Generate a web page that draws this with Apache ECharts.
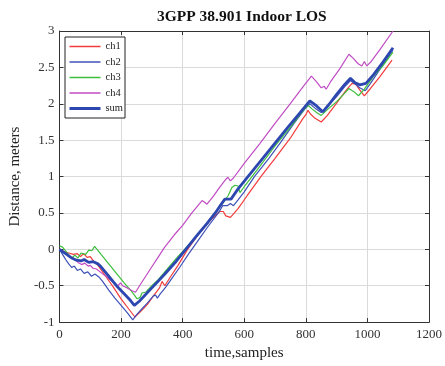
<!DOCTYPE html>
<html>
<head>
<meta charset="utf-8">
<script src="https://cdn.jsdelivr.net/npm/echarts@6/dist/echarts.min.js"></script>
<style>
html,body{margin:0;padding:0;background:#fff;}
#chart{width:445px;height:366px;}
</style>
</head>
<body>
<div id="chart"></div>
<script>
const titleText = '3GPP 38.901 Indoor LOS';
const xName = 'time,samples';
const yName = 'Distance, meters';
const seriesNames = ['ch1', 'ch2', 'ch3', 'ch4', 'sum'];

const ch1 = [[0,0],[15,-0.03],[30,-0.05],[45,-0.07],[58,-0.06],[68,-0.1],[78,-0.06],[90,-0.11],[100,-0.1],[110,-0.16],[125,-0.22],[150,-0.37],[175,-0.52],[200,-0.68],[225,-0.82],[245,-0.93],[265,-0.85],[285,-0.76],[305,-0.64],[325,-0.53],[333,-0.44],[342,-0.5],[360,-0.38],[385,-0.22],[416,0.0],[450,0.2],[490,0.4],[520,0.52],[532,0.52],[540,0.46],[555,0.44],[568,0.5],[580,0.56],[610,0.74],[654,1.0],[700,1.25],[750,1.53],[791,1.8],[800,1.85],[807,1.91],[815,1.86],[830,1.8],[850,1.75],[870,1.84],[900,2.01],[930,2.18],[950,2.28],[962,2.27],[975,2.19],[990,2.11],[1010,2.21],[1040,2.37],[1080,2.6]];

const ch2 = [[0,0],[10,-0.07],[20,-0.14],[30,-0.2],[40,-0.25],[48,-0.23],[58,-0.29],[68,-0.27],[80,-0.33],[92,-0.31],[104,-0.37],[115,-0.34],[128,-0.38],[140,-0.44],[160,-0.56],[180,-0.67],[200,-0.77],[220,-0.87],[238,-0.97],[250,-0.9],[265,-0.83],[285,-0.74],[305,-0.64],[312,-0.63],[318,-0.67],[326,-0.62],[345,-0.52],[365,-0.4],[390,-0.25],[420,-0.06],[450,0.12],[480,0.3],[516,0.5],[530,0.6],[545,0.6],[555,0.63],[565,0.6],[580,0.68],[600,0.79],[633,1.0],[680,1.25],[720,1.48],[760,1.72],[795,1.92],[813,2.0],[830,1.94],[850,1.88],[870,1.96],[900,2.1],[925,2.23],[945,2.32],[958,2.28],[975,2.22],[993,2.18],[1010,2.28],[1040,2.47],[1083,2.74]];

const ch3 = [[0,0.05],[10,0.03],[25,-0.05],[40,-0.12],[50,-0.08],[60,-0.12],[70,-0.05],[85,-0.07],[95,-0.01],[105,-0.02],[114,0.04],[122,0.0],[135,-0.07],[160,-0.2],[185,-0.33],[210,-0.46],[235,-0.58],[252,-0.68],[262,-0.66],[268,-0.6],[280,-0.59],[300,-0.5],[320,-0.42],[340,-0.32],[360,-0.22],[380,-0.12],[420,0.06],[460,0.25],[500,0.48],[530,0.63],[548,0.74],[560,0.85],[570,0.88],[580,0.87],[586,0.78],[600,0.86],[640,1.08],[700,1.42],[750,1.68],[790,1.9],[807,1.98],[820,1.93],[835,1.88],[850,1.84],[870,1.92],[900,2.03],[925,2.14],[940,2.21],[955,2.17],[971,2.11],[990,2.2],[1020,2.38],[1050,2.52],[1083,2.71]];

const ch4 = [[0,0],[20,-0.05],[35,-0.1],[51,-0.14],[60,-0.18],[72,-0.21],[82,-0.19],[93,-0.23],[100,-0.22],[109,-0.26],[120,-0.27],[135,-0.32],[165,-0.42],[190,-0.5],[198,-0.46],[205,-0.5],[220,-0.53],[236,-0.57],[247,-0.59],[260,-0.5],[280,-0.37],[300,-0.24],[320,-0.11],[340,0.02],[373,0.2],[400,0.33],[430,0.5],[463,0.67],[470,0.65],[479,0.62],[500,0.73],[520,0.85],[540,0.96],[547,0.99],[555,0.94],[565,0.98],[600,1.18],[650,1.45],[700,1.73],[749,2.0],[790,2.23],[818,2.38],[835,2.3],[850,2.22],[860,2.24],[866,2.2],[880,2.3],[910,2.48],[940,2.68],[955,2.62],[970,2.55],[982,2.52],[990,2.58],[998,2.52],[1010,2.57],[1040,2.74],[1083,3.0]];

const sum = [[0,0],[20,-0.06],[40,-0.12],[55,-0.15],[70,-0.16],[80,-0.14],[95,-0.18],[110,-0.17],[125,-0.2],[135,-0.24],[160,-0.37],[185,-0.5],[210,-0.61],[230,-0.7],[243,-0.77],[260,-0.71],[300,-0.53],[340,-0.35],[380,-0.16],[410,0.0],[450,0.21],[480,0.36],[506,0.5],[525,0.62],[537,0.69],[557,0.69],[580,0.83],[612,1.0],[660,1.25],[700,1.46],[740,1.67],[780,1.87],[813,2.04],[835,1.97],[855,1.89],[875,1.99],[900,2.13],[925,2.26],[945,2.35],[960,2.29],[975,2.26],[995,2.28],[1020,2.4],[1050,2.57],[1083,2.77]];

const seriesData = [ch1, ch2, ch3, ch4, sum];
const colors = ['#f23b3b', '#3f52b8', '#3cbf3c', '#c04cc4', '#2d47b0'];
const widths = [1.2, 1.2, 1.2, 1.2, 2.8];

const serif = 'Liberation Serif';
const chart = echarts.init(document.getElementById('chart'), null, {renderer: 'canvas'});

const baseX = {
  type: 'value', min: 0, max: 1200, interval: 200,
  axisLine: {show: true, onZero: false, lineStyle: {color: '#333', width: 1}},
  axisTick: {show: true, inside: true, length: 4, lineStyle: {color: '#333'}},
  splitLine: {show: true, lineStyle: {color: '#dadada', width: 1}}
};
const baseY = {
  type: 'value', min: -1, max: 3, interval: 0.5,
  axisLine: {show: true, onZero: false, lineStyle: {color: '#333', width: 1}},
  axisTick: {show: true, inside: true, length: 4, lineStyle: {color: '#333'}},
  splitLine: {show: true, lineStyle: {color: '#dadada', width: 1}}
};

chart.setOption({
  animation: false,
  backgroundColor: '#fff',
  title: {
    text: titleText, left: 157, top: 9, padding: 0,
    textStyle: {fontFamily: serif, fontWeight: 'bold', fontSize: 15.5, color: '#111'}
  },
  grid: {left: 54, right: 13, top: 31, bottom: 39, show: false},
  legend: {
    data: seriesNames.map((n, i) => ({name: n, lineStyle: {width: i === 4 ? 3 : 1.5}})),
    orient: 'vertical', left: 65, top: 37,
    padding: [3, 2, 3, 3], itemWidth: 31, itemHeight: 13, itemGap: 2.5,
    borderColor: '#222', borderWidth: 1, backgroundColor: '#fff',
    itemStyle: {opacity: 0},
    textStyle: {fontFamily: serif, fontSize: 10.5, color: '#222', lineHeight: 13}
  },
  xAxis: [
    Object.assign({}, baseX, {
      position: 'bottom',
      axisLabel: {fontFamily: serif, fontSize: 13, color: '#333', margin: 6, formatter: v => String(v)},
      name: xName, nameLocation: 'middle', nameGap: 22,
      nameTextStyle: {fontFamily: serif, fontSize: 15, color: '#222'}
    }),
    Object.assign({}, baseX, {position: 'top', axisLabel: {show: false}, splitLine: {show: false}})
  ],
  yAxis: [
    Object.assign({}, baseY, {
      position: 'left',
      axisLabel: {fontFamily: serif, fontSize: 13, color: '#333', margin: 5},
      name: yName, nameLocation: 'middle', nameGap: 33,
      nameTextStyle: {fontFamily: serif, fontSize: 15, color: '#222'}
    }),
    Object.assign({}, baseY, {position: 'right', axisLabel: {show: false}, splitLine: {show: false}})
  ],
  series: seriesNames.map((n, i) => ({
    name: n, type: 'line', xAxisIndex: 0, yAxisIndex: 0,
    data: seriesData[i], symbol: 'none', showSymbol: false,
    lineStyle: {color: colors[i], width: widths[i]},
    itemStyle: {color: colors[i]},
    z: 2 + i
  }))
});
</script>
</body>
</html>
